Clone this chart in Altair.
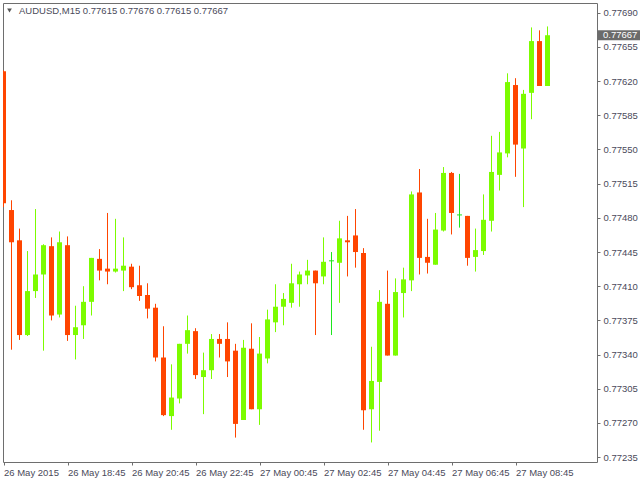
import altair as alt
import pandas as pd

# OHLC values in 1e-5 units above 0.7 (i.e. 77630 -> 0.77630)
opens = [77630, 77488, 77457, 77360, 77405, 77422, 77451, 77381, 77452, 77360,
         77370, 77394, 77438, 77428, 77425, 77426, 77430, 77411, 77401, 77388,
         77337, 77277, 77295, 77351, 77364, 77317, 77324, 77356, 77356, 77344,
         77273, 77346, 77284, 77336, 77373, 77389, 77393, 77412, 77421, 77426,
         77420, 77436, 77434, 77457, 77462, 77444, 77284, 77312, 77392, 77339,
         77403, 77416, 77506, 77440, 77432, 77467, 77526, 77483, 77482, 77440,
         77446, 77477, 77524, 77546, 77616, 77551, 77608, 77661, 77615]
highs = [77631, 77498, 77469, 77446, 77489, 77453, 77460, 77466, 77461, 77390,
         77410, 77439, 77448, 77485, 77479, 77460, 77433, 77431, 77413, 77392,
         77369, 77330, 77351, 77380, 77367, 77342, 77361, 77361, 77373, 77351,
         77355, 77372, 77358, 77386, 77412, 77403, 77433, 77425, 77437, 77426,
         77460, 77445, 77477, 77482, 77489, 77449, 77348, 77406, 77426, 77418,
         77429, 77507, 77530, 77479, 77485, 77532, 77527, 77525, 77482, 77469,
         77504, 77564, 77568, 77628, 77623, 77611, 77675, 77672, 77676]
lows = [77491, 77345, 77355, 77359, 77398, 77344, 77375, 77378, 77354, 77335,
        77356, 77380, 77416, 77412, 77424, 77405, 77407, 77395, 77377, 77333,
        77277, 77263, 77290, 77341, 77315, 77279, 77315, 77337, 77317, 77255,
        77273, 77284, 77268, 77331, 77363, 77370, 77388, 77389, 77412, 77360,
        77412, 77360, 77393, 77420, 77429, 77263, 77250, 77262, 77339, 77339,
        77378, 77405, 77422, 77423, 77432, 77466, 77463, 77470, 77431, 77425,
        77442, 77466, 77508, 77542, 77522, 77491, 77581, 77615, 77615]
closes = [77495, 77455, 77360, 77405, 77422, 77452, 77380, 77455, 77360, 77368,
          77394, 77439, 77426, 77425, 77428, 77431, 77409, 77400, 77387, 77337,
          77278, 77296, 77351, 77365, 77319, 77324, 77356, 77351, 77333, 77269,
          77347, 77284, 77341, 77376, 77389, 77397, 77413, 77422, 77426, 77413,
          77435, 77436, 77459, 77455, 77445, 77283, 77313, 77394, 77339, 77404,
          77417, 77504, 77439, 77434, 77468, 77526, 77485, 77483, 77439, 77447,
          77478, 77527, 77547, 77619, 77555, 77607, 77661, 77615, 77667]

tick_index = [0, 8, 16, 24, 32, 40, 48, 56, 64]
tick_labels = ["26 May 2015", "26 May 18:45", "26 May 20:45", "26 May 22:45",
               "27 May 00:45", "27 May 02:45", "27 May 04:45", "27 May 06:45",
               "27 May 08:45"]
price_ticks = [0.77235, 0.77270, 0.77305, 0.77340, 0.77375, 0.77410, 0.77445,
               0.77480, 0.77515, 0.77550, 0.77585, 0.77620, 0.77655, 0.77690]
title_text = "AUDUSD,M15  0.77615 0.77676 0.77615 0.77667"

UP = "#7CFC00"
DOWN = "#FF4500"
DOJI = "#1EE61E"
TXT = "#4a4a5a"
FONT = "Liberation Sans"

rows = []
for i, (o, h, l, c) in enumerate(zip(opens, highs, lows, closes)):
    kind = "up" if c > o else ("down" if c < o else "doji")
    rows.append({"i": i, "open": o / 1e5, "high": h / 1e5, "low": l / 1e5,
                 "close": c / 1e5, "kind": kind})
df = pd.DataFrame(rows)

label_js = "[" + ",".join("'%s'" % t for t in tick_labels) + "][datum.value/8]"

xscale = alt.Scale(domain=[-0.0625, 74.1875], nice=False, zero=False)
yscale = alt.Scale(domain=[0.77230, 0.77700], nice=False, zero=False)
color = alt.Color("kind:N", scale=alt.Scale(domain=["up", "down", "doji"],
                                            range=[UP, DOWN, DOJI]), legend=None)

xaxis = alt.Axis(values=tick_index, labelExpr=label_js, labelAlign="left",
                 labelFlush=False, labelOverlap=False, tickSize=3, labelPadding=2,
                 domain=False, grid=False, title=None,
                 labelColor=TXT, tickColor="#6e6e6e", labelFont=FONT,
                 labelFontSize=9.5)
yaxis = alt.Axis(orient="right", values=price_ticks, format=".5f", tickSize=3,
                 labelPadding=3, domain=False, grid=False, title=None,
                 labelOverlap=False, labelFlush=False, labelBound=False,
                 labelColor=TXT, tickColor="#6e6e6e", labelFont=FONT,
                 labelFontSize=9.5, labelBaseline="middle")

base = alt.Chart(df)

wicks = base.mark_rule(strokeWidth=1, clip=True).encode(
    x=alt.X("i:Q", scale=xscale, axis=xaxis),
    y=alt.Y("low:Q", scale=yscale, axis=yaxis),
    y2="high:Q",
    color=color,
)

bodies = base.transform_filter("datum.kind != 'doji'").mark_rule(
    strokeWidth=5, clip=True).encode(
    x=alt.X("i:Q", scale=xscale, axis=xaxis),
    y=alt.Y("open:Q", scale=yscale, axis=yaxis),
    y2="close:Q",
    color=color,
)

dojis = base.transform_filter("datum.kind == 'doji'").mark_tick(
    orient="horizontal", size=5, thickness=1, opacity=1, clip=True).encode(
    x=alt.X("i:Q", scale=xscale, axis=xaxis),
    y=alt.Y("open:Q", scale=yscale, axis=yaxis),
    color=alt.value(DOJI),
)

last = base.transform_filter("datum.i == %d" % (len(closes) - 1))

price_box = last.mark_rule(strokeWidth=10, color="#6b6b6b").encode(
    x=alt.value(595), x2=alt.value(640),
    y=alt.Y("close:Q", scale=yscale, axis=yaxis),
)
price_text = last.mark_text(align="left", baseline="middle", color="white",
                            font=FONT, fontSize=9.5).encode(
    x=alt.value(600),
    y=alt.Y("close:Q", scale=yscale, axis=yaxis),
    text=alt.Text("close:Q", format=".5f"),
)

title = alt.Chart(pd.DataFrame({"t": [title_text]})).mark_text(
    align="left", baseline="middle", color=TXT, font=FONT, fontSize=9.5).encode(
    x=alt.value(16), y=alt.value(8), text="t:N")
tri = alt.Chart(pd.DataFrame({"t": [title_text]})).mark_point(
    shape="triangle-down", filled=True, size=22, color="#555555", opacity=1).encode(
    x=alt.value(6.5), y=alt.value(7.5))

chart = alt.layer(wicks, bodies, dojis, price_box, price_text, title, tri).properties(
    width=594, height=459,
    autosize=alt.AutoSizeParams(type="none"),
    padding={"left": 3, "top": 3, "right": 43, "bottom": 18},
    background="white",
).configure_view(stroke="#6e6e6e", strokeWidth=1
).configure_axis(labelOverlap=False)

chart.save("out.html", embed_options={"renderer": "svg", "actions": False})
